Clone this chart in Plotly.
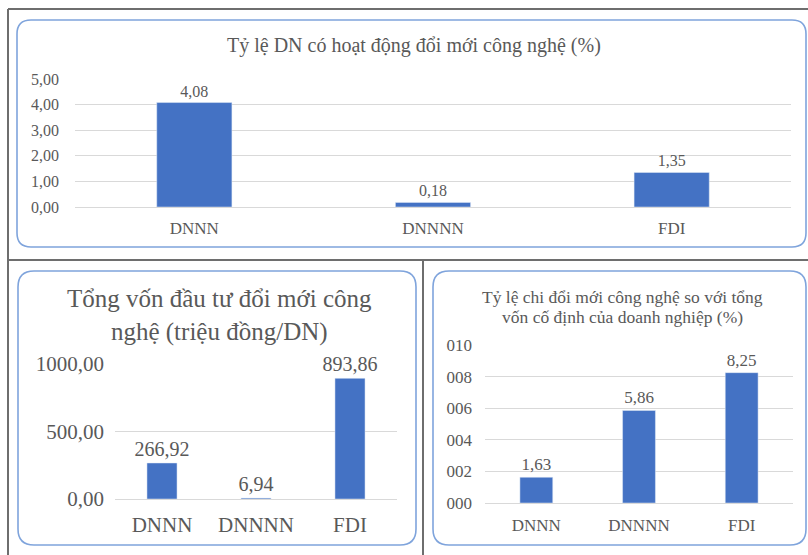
import plotly.graph_objects as go

W, H = 808, 555

categories = ["DNNN", "DNNNN", "FDI"]
rate_innovation = [4.08, 0.18, 1.35]
capital_innovation = [266.92, 6.94, 893.86]
spend_ratio = [1.63, 5.86, 8.25]

title_top = "Tỷ lệ DN có hoạt động đổi mới công nghệ (%)"
title_bl = "Tổng vốn đầu tư đổi mới công<br>nghệ (triệu đồng/DN)"
title_br_1 = "Tỷ lệ chi đổi mới công nghệ so với tổng"
title_br_2 = "vốn cố định của doanh nghiệp (%)"

BAR = "#4472C4"
TXT = "#595959"
GRID = "#D9D9D9"
FONT = "Liberation Serif"


def px(x):
    return x / W


def py(y):
    return 1 - y / H


fig = go.Figure()

fig.add_trace(go.Bar(x=categories, y=rate_innovation, marker_color=BAR, xaxis="x", yaxis="y",
                     texttemplate="%{y:.2f}", textposition="outside", cliponaxis=False,
                     constraintext="none",
                     textfont=dict(size=16, color=TXT, family=FONT), width=0.315))
fig.add_trace(go.Bar(x=categories, y=capital_innovation, marker_color=BAR, xaxis="x2", yaxis="y2",
                     texttemplate="%{y:.2f}", textposition="outside", cliponaxis=False,
                     constraintext="none",
                     textfont=dict(size=20, color=TXT, family=FONT), width=0.32))
fig.add_trace(go.Bar(x=categories, y=spend_ratio, marker_color=BAR, xaxis="x3", yaxis="y3",
                     texttemplate="%{y:.2f}", textposition="outside", cliponaxis=False,
                     constraintext="none",
                     textfont=dict(size=17, color=TXT, family=FONT), width=0.32))


def xax(x0, x1, size, standoff, anchor):
    return dict(domain=[px(x0), px(x1)], showgrid=False, showline=False, ticks="",
                tickfont=dict(size=size, color=TXT, family=FONT), ticklabelstandoff=standoff,
                automargin=False, anchor=anchor, fixedrange=True)


def yax(y0, y1, rng, dtick, fmt, size, standoff, anchor):
    return dict(domain=[py(y1), py(y0)], range=rng, dtick=dtick, tickformat=fmt,
                showgrid=True, gridcolor=GRID, gridwidth=1, zeroline=True, zerolinecolor=GRID,
                zerolinewidth=1, showline=False, ticks="", anchor=anchor, automargin=False,
                tickfont=dict(size=size, color=TXT, family=FONT), ticklabelstandoff=standoff,
                fixedrange=True)


shapes = []


def rrect(x0, y0, x1, y1, r):
    a0, a1 = px(x0), px(x1)
    b0, b1 = py(y0), py(y1)
    rx, ry = r / W, r / H
    path = (f"M {a0+rx},{b0} L {a1-rx},{b0} Q {a1},{b0} {a1},{b0-ry} "
            f"L {a1},{b1+ry} Q {a1},{b1} {a1-rx},{b1} L {a0+rx},{b1} Q {a0},{b1} {a0},{b1+ry} "
            f"L {a0},{b0-ry} Q {a0},{b0} {a0+rx},{b0} Z")
    shapes.append(dict(type="path", xref="paper", yref="paper", path=path,
                       line=dict(color="#7FA4DC", width=1.6), fillcolor="rgba(0,0,0,0)", layer="below"))


def hline(x0, x1, y):
    shapes.append(dict(type="line", xref="paper", yref="paper", x0=px(x0), x1=px(x1), y0=py(y), y1=py(y),
                       line=dict(color="#6E6E6E", width=2)))


def vline(x, y0, y1):
    shapes.append(dict(type="line", xref="paper", yref="paper", x0=px(x), x1=px(x), y0=py(y0), y1=py(y1),
                       line=dict(color="#6E6E6E", width=2)))


hline(8, W, 9)
hline(8, W, 260)
vline(8, 9, H)
vline(423, 260, H)
rrect(17, 20, 806, 247, 14)
rrect(18, 271, 416, 545, 16)
rrect(433, 271, 806, 545, 16)


def title(text, x, y, size):
    return dict(text=text, x=px(x), y=py(y), xref="paper", yref="paper", showarrow=False,
                font=dict(size=size, color=TXT, family=FONT), xanchor="center", yanchor="middle")


annotations = [
    title(title_top, 414, 45, 20),
    title(title_bl, 219, 315, 25),
    title(title_br_1, 622, 297, 17.5),
    title(title_br_2, 622, 317, 17.5),
]

fig.update_layout(
    width=W, height=H, margin=dict(l=0, r=0, t=0, b=0, pad=0), autosize=False,
    paper_bgcolor="white", plot_bgcolor="rgba(0,0,0,0)",
    separators=", ", showlegend=False,
    font=dict(family=FONT, color=TXT),
    xaxis=xax(75, 791, 17, 9, "y"),
    yaxis=yax(79, 207, [0, 5], 1, ".2f", 16, 15, "x"),
    xaxis2=xax(115, 397, 21, 11, "y2"),
    yaxis2=yax(364, 499, [0, 1000], 500, ".2f", 21, 10, "x2"),
    xaxis3=xax(485, 793, 17, 10, "y3"),
    yaxis3=yax(345, 503, [0, 10], 2, "03d", 17, 12, "x3"),
    shapes=shapes, annotations=annotations,
)

fig.write_html("out.html")
